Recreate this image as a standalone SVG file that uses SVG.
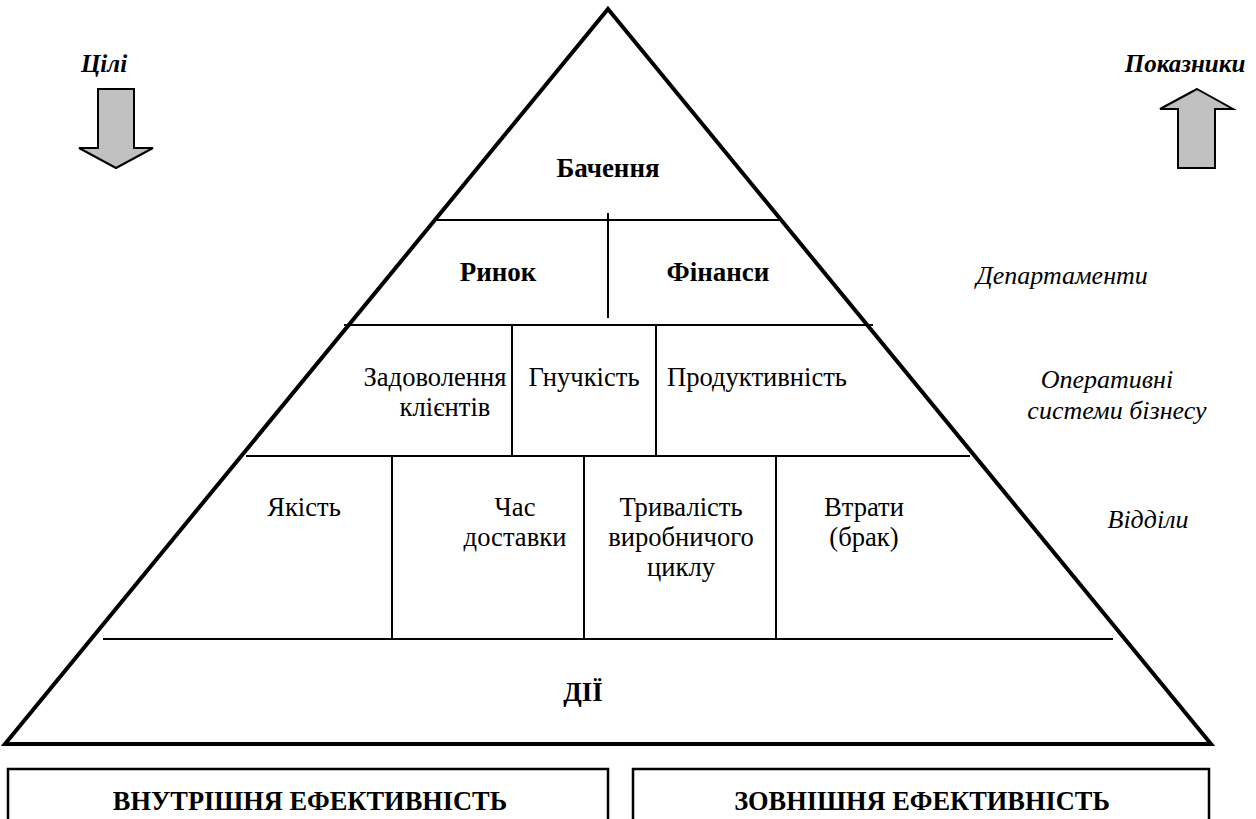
<svg xmlns="http://www.w3.org/2000/svg" width="1256" height="819" viewBox="0 0 1256 819">
<style>
text{font-family:"Liberation Serif","DejaVu Serif",serif;font-size:26.6px;fill:#000;text-anchor:middle}
.b{font-weight:bold;font-size:27px}
.i{font-style:italic;font-size:26px}
.bt{font-weight:bold;font-size:26.4px}
.ln{stroke:#000;stroke-width:2;fill:none}
.arr{fill:#c0c0c0;stroke:#000;stroke-width:2;stroke-linejoin:miter}
.box{fill:#fff;stroke:#000;stroke-width:2.5}
</style>
<rect width="1256" height="819" fill="#fff"/>
<g id="pyramid">
<polygon points="608,9 1211,744 5,744" fill="none" stroke="#000" stroke-width="4" stroke-linejoin="miter"/>
</g>
<g id="connectors">
<line class="ln" x1="437" y1="220" x2="780" y2="220"/>
<line class="ln" x1="608" y1="213" x2="608" y2="318"/>
<line class="ln" x1="344" y1="325" x2="873" y2="325"/>
<line class="ln" x1="512" y1="325" x2="512" y2="456"/>
<line class="ln" x1="656" y1="325" x2="656" y2="456"/>
<line class="ln" x1="246" y1="456" x2="970" y2="456"/>
<line class="ln" x1="392" y1="456" x2="392" y2="639"/>
<line class="ln" x1="584" y1="456" x2="584" y2="639"/>
<line class="ln" x1="776" y1="456" x2="776" y2="639"/>
<line class="ln" x1="103" y1="639" x2="1113" y2="639"/>
</g>
<g id="goals">
<text class="b i" x="104" y="72" style="font-size:25px">Цілі</text>
<polygon class="arr" points="98,89 134,89 134,148 153,148 116,168 79,148 98,148"/>
</g>
<g id="indicators">
<text class="b i" x="1185" y="72" style="font-size:25px">Показники</text>
<polygon class="arr" points="1197,89 1233,109 1215,109 1215,168 1178,168 1178,109 1160,109"/>
</g>
<g id="vision"><text class="b" x="608" y="177">Бачення</text></g>
<g id="market"><text class="b" x="498" y="281">Ринок</text></g>
<g id="finance"><text class="b" x="718" y="281">Фінанси</text></g>
<g id="satisfaction"><text x="435" y="386">Задоволення</text><text x="445" y="416">клієнтів</text></g>
<g id="flexibility"><text x="584" y="386">Гнучкість</text></g>
<g id="productivity"><text x="757" y="386">Продуктивність</text></g>
<g id="quality"><text x="304" y="516">Якість</text></g>
<g id="delivery"><text x="515" y="516">Час</text><text x="515" y="546">доставки</text></g>
<g id="cycle"><text x="681" y="516">Тривалість</text><text x="681" y="546">виробничого</text><text x="681" y="576">циклу</text></g>
<g id="losses"><text x="864" y="516">Втрати</text><text x="864" y="546">(брак)</text></g>
<g id="actions"><text class="b" x="583" y="701">ДІЇ</text></g>
<g id="departments"><text class="i" x="1062" y="284">Департаменти</text></g>
<g id="operative"><text class="i" x="1107" y="388">Оперативні</text><text class="i" x="1117" y="419">системи бізнесу</text></g>
<g id="divisions"><text class="i" x="1148" y="528">Відділи</text></g>
<g id="internal"><rect class="box" x="8" y="769" width="600" height="70"/><text class="bt" x="310" y="810">ВНУТРІШНЯ ЕФЕКТИВНІСТЬ</text></g>
<g id="external"><rect class="box" x="633" y="769" width="576" height="70"/><text class="bt" x="922" y="810">ЗОВНІШНЯ ЕФЕКТИВНІСТЬ</text></g>
</svg>
